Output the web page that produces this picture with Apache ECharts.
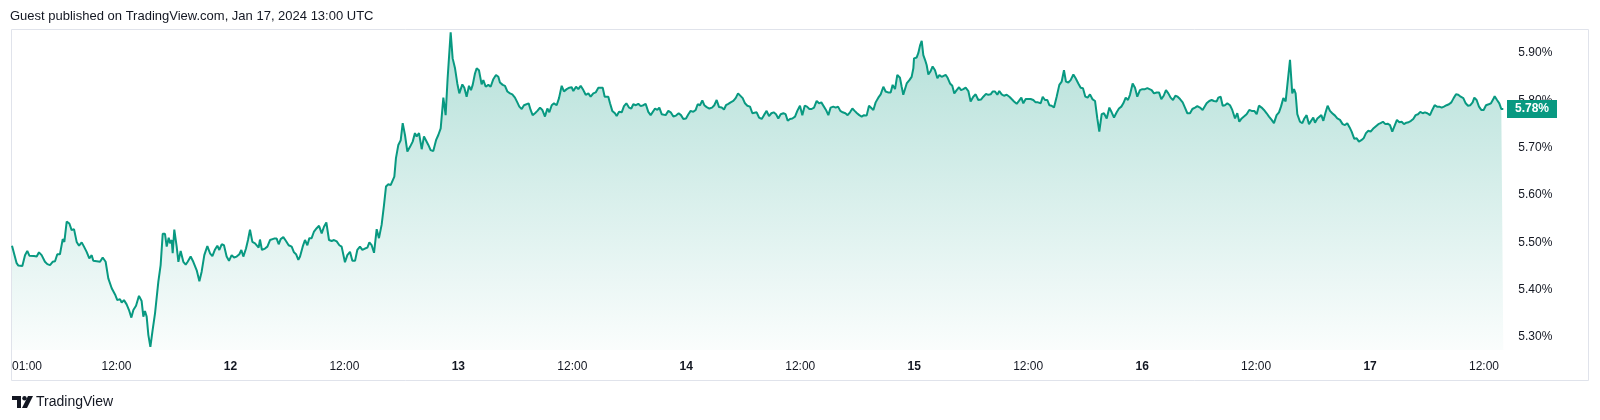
<!DOCTYPE html>
<html>
<head>
<meta charset="utf-8">
<script src="https://cdn.jsdelivr.net/npm/echarts@6/dist/echarts.min.js"></script>
<style>
html,body{margin:0;padding:0;background:#fff;}
#chart{width:1600px;height:420px;}
</style>
</head>
<body>
<div id="chart"></div>
<script>
// Hours counted from Jan 11 00:00, value in %
const jan11 = [[1.00,5.493],[1.49,5.456],[1.67,5.451],[1.84,5.454],[2.09,5.450],[2.37,5.473],[2.61,5.482],[2.83,5.472],[3.32,5.471],[3.60,5.470],[3.84,5.479],[4.12,5.473],[4.47,5.459],[4.72,5.454],[5.00,5.452],[5.28,5.459],[5.53,5.460],[5.77,5.475],[6.05,5.475],[6.34,5.507],[6.51,5.501],[6.76,5.544],[7.04,5.540],[7.28,5.526],[7.53,5.528],[7.81,5.501],[8.06,5.493],[8.34,5.500],[8.58,5.491],[8.86,5.480],[9.14,5.466],[9.39,5.473],[9.56,5.461],[9.92,5.460],[10.27,5.459],[10.55,5.468],[10.86,5.459],[11.14,5.424],[11.50,5.403],[11.85,5.390],[12.09,5.378],[12.37,5.380],[12.55,5.373],[12.79,5.378],[13.07,5.369],[13.32,5.357],[13.57,5.341],[13.78,5.357],[14.06,5.366],[14.37,5.387],[14.65,5.376],[14.83,5.343],[15.00,5.355],[15.18,5.343],[15.36,5.304],[15.57,5.279],[15.81,5.315],[16.06,5.350],[16.41,5.417],[16.65,5.452],[16.87,5.518],[17.11,5.518],[17.29,5.491],[17.50,5.510],[17.64,5.498],[17.81,5.505],[17.92,5.477],[18.09,5.527],[18.34,5.491],[18.52,5.459],[18.76,5.482],[19.04,5.459],[19.29,5.453],[19.50,5.459],[19.81,5.470],[20.09,5.459],[20.45,5.441],[20.73,5.418],[20.97,5.438],[21.25,5.473],[21.57,5.492],[21.85,5.477],[22.10,5.471],[22.38,5.485],[22.62,5.493],[22.83,5.484],[23.08,5.496],[23.32,5.494],[23.60,5.470],[23.85,5.461]];
const jan12 = [[24.13,5.473],[24.38,5.468],[24.66,5.470],[24.94,5.475],[25.15,5.484],[25.36,5.470],[25.64,5.487],[25.85,5.505],[26.06,5.527],[26.31,5.501],[26.59,5.498],[26.76,5.501],[26.97,5.489],[27.11,5.506],[27.32,5.484],[27.64,5.487],[27.89,5.491],[28.17,5.505],[28.34,5.501],[28.59,5.508],[28.87,5.508],[29.08,5.496],[29.29,5.507],[29.57,5.511],[29.85,5.503],[30.13,5.494],[30.45,5.491],[30.69,5.479],[30.91,5.475],[31.15,5.463],[31.33,5.470],[31.61,5.491],[31.85,5.505],[32.10,5.494],[32.31,5.509],[32.55,5.509],[32.80,5.523],[33.08,5.530],[33.33,5.535],[33.61,5.519],[33.85,5.533],[34.10,5.542],[34.38,5.505],[34.66,5.503],[34.91,5.505],[35.19,5.502],[35.47,5.494],[35.71,5.491],[35.89,5.487],[36.06,5.458],[36.31,5.473],[36.59,5.480],[36.84,5.461],[37.12,5.461],[37.36,5.484],[37.64,5.491],[37.89,5.484],[38.17,5.487],[38.42,5.489],[38.63,5.500],[38.87,5.494],[39.12,5.478],[39.40,5.528],[39.64,5.509],[39.92,5.537],[40.17,5.579],[40.38,5.618],[40.63,5.623],[40.87,5.621],[41.08,5.621],[41.26,5.639],[41.43,5.678],[41.68,5.706],[41.93,5.716],[42.14,5.752],[42.38,5.727],[42.63,5.692],[42.91,5.702],[43.19,5.713],[43.43,5.731],[43.61,5.724],[43.86,5.731],[44.14,5.697],[44.38,5.724],[44.59,5.721],[44.84,5.706],[45.08,5.695],[45.36,5.693],[45.65,5.716],[45.89,5.727],[46.14,5.741],[46.42,5.806],[46.66,5.769],[46.87,5.847],[47.19,5.944],[47.40,5.889],[47.65,5.868],[47.89,5.836]];
const jan13 = [[48.10,5.815],[48.42,5.834],[48.63,5.827],[48.87,5.808],[49.12,5.831],[49.33,5.822],[49.51,5.833],[49.75,5.857],[49.93,5.868],[50.17,5.864],[50.45,5.834],[50.63,5.843],[50.88,5.829],[51.16,5.833],[51.40,5.829],[51.68,5.845],[51.96,5.854],[52.21,5.850],[52.38,5.838],[52.67,5.833],[52.91,5.831],[53.16,5.819],[53.44,5.815],[53.68,5.813],[53.96,5.806],[54.21,5.796],[54.42,5.787],[54.67,5.782],[54.91,5.790],[55.12,5.787],[55.40,5.794],[55.61,5.780],[55.82,5.769],[56.07,5.773],[56.32,5.778],[56.60,5.785],[56.84,5.780],[57.12,5.766],[57.37,5.783],[57.58,5.775],[57.83,5.790],[58.07,5.794],[58.35,5.790],[58.60,5.805],[58.88,5.831],[59.12,5.819],[59.41,5.824],[59.69,5.827],[59.93,5.828],[60.11,5.820],[60.39,5.829],[60.63,5.824],[60.88,5.831],[61.16,5.822],[61.41,5.812],[61.69,5.815],[61.93,5.808],[62.21,5.815],[62.46,5.817],[62.74,5.827],[62.91,5.829],[63.20,5.827],[63.41,5.808],[63.62,5.806],[63.79,5.808],[63.97,5.794],[64.21,5.778],[64.49,5.773],[64.67,5.767],[64.92,5.776],[65.20,5.775],[65.44,5.788],[65.69,5.794],[65.97,5.785],[66.21,5.783],[66.42,5.792],[66.70,5.790],[66.95,5.793],[67.20,5.788],[67.48,5.790],[67.72,5.793],[68.00,5.776],[68.25,5.769],[68.46,5.768],[68.71,5.783],[68.95,5.780],[69.16,5.785],[69.41,5.771],[69.58,5.775],[69.83,5.769],[70.11,5.778],[70.36,5.775],[70.64,5.766],[70.92,5.768],[71.20,5.773],[71.44,5.769],[71.69,5.761],[71.97,5.762]];
const jan14 = [[72.22,5.771],[72.46,5.778],[72.74,5.776],[72.99,5.780],[73.20,5.792],[73.44,5.790],[73.69,5.800],[73.90,5.790],[74.15,5.786],[74.43,5.783],[74.71,5.785],[74.95,5.790],[75.20,5.801],[75.45,5.786],[75.73,5.785],[75.97,5.781],[76.18,5.790],[76.43,5.793],[76.67,5.796],[76.95,5.799],[77.20,5.805],[77.45,5.815],[77.66,5.815],[77.94,5.805],[78.18,5.794],[78.43,5.789],[78.71,5.787],[78.96,5.773],[79.17,5.771],[79.41,5.775],[79.66,5.764],[79.94,5.761],[80.18,5.769],[80.46,5.778],[80.71,5.767],[80.96,5.773],[81.20,5.775],[81.45,5.771],[81.69,5.762],[81.94,5.771],[82.22,5.773],[82.46,5.771],[82.68,5.757],[82.92,5.761],[83.17,5.762],[83.45,5.766],[83.69,5.778],[83.97,5.789],[84.22,5.769],[84.47,5.789],[84.71,5.787],[84.96,5.782],[85.20,5.782],[85.45,5.785],[85.73,5.799],[85.98,5.794],[86.22,5.796],[86.43,5.799],[86.71,5.780],[86.96,5.769],[87.20,5.785],[87.48,5.787],[87.73,5.785],[87.98,5.787],[88.22,5.778],[88.47,5.775],[88.75,5.773],[88.99,5.769],[89.24,5.775],[89.49,5.783],[89.73,5.778],[89.98,5.773],[90.22,5.769],[90.47,5.766],[90.71,5.769],[90.99,5.768],[91.24,5.789],[91.45,5.788],[91.70,5.780],[91.94,5.796],[92.22,5.806],[92.47,5.813],[92.75,5.829],[92.99,5.819],[93.24,5.817],[93.52,5.817],[93.73,5.833],[93.98,5.824],[94.22,5.854],[94.50,5.848],[94.68,5.829],[94.85,5.812],[95.03,5.813],[95.21,5.836],[95.49,5.843],[95.73,5.850],[95.91,5.868],[95.98,5.889]];
const jan15 = [[96.26,5.891],[96.43,5.900],[96.61,5.916],[96.79,5.926],[96.96,5.896],[97.14,5.886],[97.31,5.875],[97.49,5.855],[97.73,5.862],[97.94,5.872],[98.19,5.864],[98.44,5.847],[98.65,5.854],[98.89,5.850],[99.07,5.852],[99.31,5.854],[99.52,5.848],[99.77,5.836],[100.01,5.831],[100.22,5.815],[100.47,5.822],[100.72,5.828],[100.93,5.822],[101.17,5.824],[101.42,5.827],[101.70,5.820],[101.94,5.798],[102.22,5.808],[102.47,5.813],[102.75,5.801],[103.03,5.802],[103.28,5.808],[103.56,5.814],[103.80,5.812],[104.05,5.813],[104.26,5.819],[104.51,5.819],[104.75,5.812],[104.96,5.820],[105.21,5.813],[105.45,5.810],[105.74,5.812],[106.02,5.808],[106.26,5.803],[106.51,5.798],[106.79,5.793],[107.03,5.799],[107.28,5.806],[107.49,5.794],[107.74,5.803],[108.02,5.803],[108.26,5.803],[108.54,5.801],[108.79,5.796],[109.03,5.796],[109.32,5.794],[109.53,5.808],[109.77,5.801],[110.02,5.801],[110.23,5.790],[110.47,5.789],[110.72,5.785],[111.00,5.808],[111.28,5.833],[111.53,5.840],[111.77,5.864],[111.98,5.840],[112.23,5.838],[112.47,5.843],[112.76,5.855],[113.00,5.847],[113.28,5.836],[113.53,5.827],[113.77,5.826],[114.02,5.808],[114.26,5.806],[114.51,5.813],[114.76,5.803],[115.04,5.799],[115.28,5.762],[115.49,5.734],[115.74,5.771],[115.98,5.773],[116.27,5.762],[116.55,5.785],[116.79,5.775],[117.04,5.764],[117.32,5.775],[117.56,5.783],[117.81,5.787],[118.02,5.794],[118.27,5.806],[118.51,5.801],[118.72,5.812],[119.00,5.836],[119.25,5.827],[119.49,5.808],[119.77,5.822]];
const jan16 = [[120.02,5.824],[120.30,5.824],[120.55,5.826],[120.76,5.829],[121.00,5.822],[121.25,5.815],[121.53,5.817],[121.78,5.817],[122.02,5.803],[122.27,5.810],[122.51,5.822],[122.76,5.815],[123.00,5.806],[123.25,5.801],[123.50,5.810],[123.74,5.808],[123.99,5.803],[124.27,5.796],[124.51,5.785],[124.76,5.773],[125.04,5.773],[125.29,5.782],[125.57,5.785],[125.81,5.788],[126.09,5.785],[126.37,5.780],[126.58,5.778],[126.79,5.794],[127.07,5.799],[127.32,5.801],[127.56,5.799],[127.85,5.798],[128.02,5.806],[128.27,5.808],[128.48,5.789],[128.72,5.790],[128.97,5.794],[129.25,5.790],[129.49,5.780],[129.78,5.762],[130.02,5.773],[130.23,5.755],[130.48,5.762],[130.72,5.766],[131.00,5.771],[131.28,5.780],[131.53,5.778],[131.81,5.778],[132.06,5.771],[132.30,5.789],[132.58,5.785],[132.83,5.780],[133.11,5.773],[133.36,5.766],[133.64,5.759],[133.88,5.752],[134.16,5.769],[134.41,5.775],[134.62,5.787],[134.87,5.805],[135.11,5.798],[135.32,5.801],[135.57,5.886],[135.81,5.815],[135.99,5.824],[136.16,5.815],[136.34,5.771],[136.62,5.755],[136.87,5.752],[137.08,5.762],[137.32,5.769],[137.57,5.750],[137.78,5.748],[138.02,5.764],[138.20,5.753],[138.45,5.762],[138.66,5.766],[138.87,5.769],[139.08,5.757],[139.32,5.775],[139.53,5.789],[139.78,5.778],[140.02,5.773],[140.31,5.768],[140.55,5.762],[140.83,5.759],[141.11,5.750],[141.36,5.748],[141.60,5.752],[141.85,5.743],[142.06,5.734],[142.34,5.719],[142.59,5.720],[142.83,5.713],[143.08,5.716],[143.32,5.720],[143.57,5.731],[143.82,5.736]];
const jan17 = [[144.06,5.734],[144.31,5.740],[144.59,5.745],[144.87,5.750],[145.11,5.752],[145.36,5.755],[145.61,5.750],[145.85,5.751],[146.10,5.748],[146.34,5.734],[146.59,5.747],[146.83,5.759],[147.08,5.754],[147.33,5.755],[147.57,5.750],[147.82,5.753],[148.06,5.754],[148.31,5.757],[148.55,5.761],[148.80,5.769],[149.05,5.771],[149.29,5.776],[149.54,5.773],[149.78,5.775],[150.03,5.773],[150.31,5.769],[150.55,5.780],[150.80,5.790],[151.05,5.787],[151.29,5.787],[151.54,5.785],[151.78,5.787],[152.06,5.790],[152.31,5.792],[152.56,5.796],[152.80,5.805],[153.05,5.813],[153.29,5.812],[153.54,5.808],[153.82,5.805],[154.07,5.794],[154.31,5.789],[154.56,5.790],[154.80,5.796],[154.98,5.806],[155.22,5.801],[155.47,5.787],[155.71,5.780],[155.96,5.780],[156.21,5.790],[156.49,5.792],[156.73,5.794],[156.98,5.803],[157.12,5.809],[157.37,5.801],[157.61,5.794],[157.82,5.782],[158.03,5.782]];

const xTickHours = [1, 12, 24, 36, 48, 60, 72, 84, 96, 108, 120, 132, 144, 156];
const yTickValues = [5.3, 5.4, 5.5, 5.6, 5.7, 5.8, 5.9];
const headerText = 'Guest published on TradingView.com, Jan 17, 2024 13:00 UTC';
const brandText = 'TradingView';

const series = [].concat(jan11, jan12, jan13, jan14, jan15, jan16, jan17);
const lastPoint = series[series.length - 1];

const GREEN = '#089981';
const TEXT = '#131722';
const FONT = 'Liberation Sans';

function xLabel(h) {
  const hh = ((h % 24) + 24) % 24;
  if (hh === 0) return '{d|' + (11 + h / 24) + '}';
  return (hh < 10 ? '0' : '') + hh + ':00';
}

const chart = echarts.init(document.getElementById('chart'), null, {renderer: 'canvas'});
chart.setOption({
  animation: false,
  backgroundColor: '#ffffff',
  grid: {left: 12, right: 96.7, top: 30, bottom: 70, containLabel: false},
  xAxis: {
    type: 'value',
    min: 1,
    max: 158.03,
    axisLine: {show: false},
    axisTick: {show: false},
    splitLine: {show: false},
    axisLabel: {
      customValues: xTickHours,
      alignMinLabel: 'left',
      margin: 11,
      color: TEXT,
      fontFamily: FONT,
      fontSize: 12,
      formatter: xLabel,
      rich: {d: {fontWeight: 'bold', fontFamily: FONT, fontSize: 12, color: TEXT}}
    }
  },
  yAxis: {
    type: 'value',
    position: 'right',
    min: 5.2725,
    max: 5.949,
    scale: true,
    axisLine: {show: false},
    axisTick: {show: false},
    splitLine: {show: false},
    axisLabel: {
      customValues: yTickValues,
      margin: 15,
      color: TEXT,
      fontFamily: FONT,
      fontSize: 12,
      formatter: v => v.toFixed(2) + '%'
    }
  },
  series: [{
    type: 'line',
    data: series,
    showSymbol: false,
    symbol: 'none',
    lineStyle: {color: GREEN, width: 2},
    areaStyle: {
      opacity: 1,
      color: new echarts.graphic.LinearGradient(0, 0, 0, 1, [
        {offset: 0, color: 'rgba(8,153,129,0.30)'},
        {offset: 1, color: 'rgba(8,153,129,0.02)'}
      ])
    },
    z: 3
  }]
});

const py = chart.convertToPixel({gridIndex: 0}, lastPoint)[1];
chart.setOption({
  graphic: [
    {type: 'rect', shape: {x: 11.5, y: 29.5, width: 1577, height: 351}, style: {fill: 'none', stroke: '#e0e3eb', lineWidth: 1}, z: 1, silent: true},
    {type: 'text', x: 10, y: 16.5, style: {text: headerText, font: '13px "Liberation Sans"', fill: TEXT, verticalAlign: 'middle'}, z: 10},
    {type: 'rect', shape: {x: 1507, y: py - 9, width: 50, height: 18}, style: {fill: GREEN}, z: 20},
    {type: 'text', x: 1532, y: py, style: {text: lastPoint[1].toFixed(2) + '%', font: 'bold 12px "Liberation Sans"', fill: '#ffffff', align: 'center', verticalAlign: 'middle'}, z: 21},
    {type: 'group', x: 12, y: 396, z: 10, children: [
      {type: 'polygon', shape: {points: [[0,0],[9,0],[9,12],[5,12],[5,4],[0,4]]}, style: {fill: TEXT}},
      {type: 'circle', shape: {cx: 12.5, cy: 2.2, r: 2.2}, style: {fill: TEXT}},
      {type: 'polygon', shape: {points: [[16,0],[21,0],[15,12],[10,12]]}, style: {fill: TEXT}}
    ]},
    {type: 'text', x: 36, y: 402, style: {text: brandText, font: '14px "Liberation Sans"', fill: TEXT, verticalAlign: 'middle'}, z: 10}
  ]
});
</script>
</body>
</html>
